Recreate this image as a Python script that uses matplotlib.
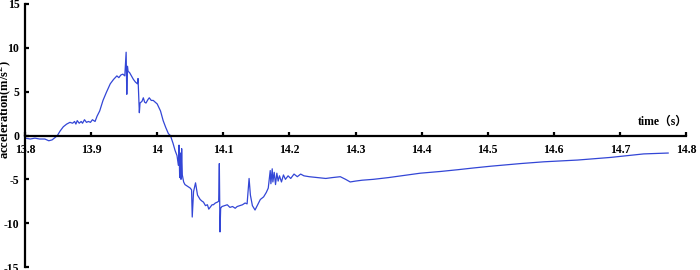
import matplotlib
matplotlib.use("Agg")
import matplotlib.pyplot as plt

# time (s) and acceleration (m/s^2)
t = [13.800, 13.808, 13.815, 13.822, 13.830, 13.836, 13.841, 13.846, 13.849,
     13.853, 13.858, 13.863, 13.868, 13.872, 13.875, 13.877, 13.879, 13.882,
     13.885, 13.887, 13.890, 13.893, 13.896, 13.899, 13.902, 13.906, 13.909,
     13.913, 13.918, 13.923, 13.929, 13.934, 13.939, 13.942, 13.945, 13.948,
     13.951, 13.953, 13.954, 13.955, 13.956, 13.958, 13.961, 13.964, 13.967,
     13.970, 13.971, 13.973, 13.974, 13.977, 13.979, 13.981, 13.983, 13.986,
     13.988, 13.991, 13.994, 13.997, 14.000, 14.005, 14.009, 14.013, 14.017,
     14.020, 14.024, 14.027, 14.030, 14.032, 14.033, 14.034, 14.035, 14.036,
     14.037, 14.038, 14.040, 14.042, 14.046, 14.050, 14.052, 14.053, 14.055,
     14.058, 14.061, 14.065, 14.068, 14.070, 14.073, 14.076, 14.078, 14.080,
     14.083, 14.085, 14.088, 14.091, 14.093, 14.094, 14.095, 14.096, 14.098,
     14.102, 14.106, 14.110, 14.114, 14.118, 14.121, 14.125, 14.129, 14.133,
     14.136, 14.139, 14.141, 14.144, 14.148, 14.152, 14.156, 14.161, 14.165,
     14.168, 14.171, 14.172, 14.174, 14.175, 14.177, 14.179, 14.181, 14.183,
     14.185, 14.188, 14.191, 14.194, 14.198, 14.202, 14.207, 14.212, 14.217,
     14.222, 14.230, 14.242, 14.255, 14.265, 14.277, 14.285, 14.292, 14.300,
     14.310, 14.327, 14.350, 14.379, 14.398, 14.429, 14.455, 14.479, 14.505,
     14.550, 14.585, 14.636, 14.686, 14.736, 14.773]
acc = [-0.3, -0.4, -0.3, -0.4, -0.4, -0.6, -0.5, -0.2, 0.0,
       0.5, 1.0, 1.3, 1.5, 1.4, 1.6, 1.3, 1.7, 1.4,
       1.6, 1.4, 1.8, 1.5, 1.6, 1.5, 1.8, 1.6, 2.2,
       2.8, 4.0, 4.9, 5.9, 6.4, 6.8, 6.6, 6.9, 7.0,
       6.8, 9.5, 4.7, 7.9, 7.3, 7.2, 6.8, 6.4, 6.1,
       5.9, 6.5, 2.6, 3.7, 3.9, 4.3, 3.8, 3.7, 4.1,
       4.3, 4.0, 4.0, 3.8, 3.6, 2.8, 1.7, 0.9, 0.2,
       0.0, -0.9, -1.7, -2.3, -3.4, -1.1, -4.8, -2.0, -5.0,
       -1.5, -4.5, -5.3, -5.6, -5.8, -6.0, -6.2, -9.3, -6.4,
       -5.4, -6.8, -7.3, -7.5, -7.6, -8.0, -7.9, -8.4, -8.2,
       -7.9, -7.9, -7.7, -7.6, -7.5, -3.2, -11.0, -8.3, -8.1,
       -8.0, -7.9, -8.2, -8.1, -8.3, -8.1, -8.0, -7.9, -7.7,
       -7.8, -4.9, -6.8, -8.0, -8.5, -7.9, -7.3, -7.0, -6.5,
       -6.0, -4.0, -5.5, -3.8, -5.3, -4.2, -5.6, -4.3, -5.2,
       -4.6, -5.3, -4.5, -5.0, -4.6, -4.9, -4.4, -4.7, -4.4,
       -4.6, -4.7, -4.8, -4.9, -4.8, -4.7, -5.0, -5.3, -5.2,
       -5.1, -5.0, -4.8, -4.5, -4.3, -4.1, -3.9, -3.7, -3.5,
       -3.2, -3.0, -2.8, -2.5, -2.1, -2.0]

xticks = [13.8, 13.9, 14.0, 14.1, 14.2, 14.3, 14.4, 14.5, 14.6, 14.7, 14.8]
xlabels = ["13.8", "13.9", "14", "14.1", "14.2", "14.3", "14.4", "14.5",
           "14.6", "14.7", "14.8"]
yticks = [15, 10, 5, 0, -5, -10, -15]
ylabels = ["15", "10", "5", "0", "-5", "-10", "-15"]

fnt = ["Liberation Serif", "Noto Sans CJK SC"]

fig = plt.figure(figsize=(7, 2.7), dpi=100)
ax = fig.add_axes([25 / 700, 3 / 270, 661 / 700, 263 / 270])
ax.plot(t, acc, color="#3346d6", linewidth=0.9)

ax.set_xlim(13.8, 14.8)
ax.set_ylim(-15, 15)
ax.spines["top"].set_visible(False)
ax.spines["right"].set_visible(False)
ax.spines["bottom"].set_position(("data", 0))
ax.spines["bottom"].set_linewidth(1.6)
ax.spines["left"].set_linewidth(1.6)

ax.set_xticks(xticks)
ax.set_xticklabels(xlabels, family=fnt, fontweight="bold", fontsize=8.5)
ax.set_yticks(yticks)
ax.set_yticklabels(ylabels, family=fnt, fontweight="bold", fontsize=8.5)
ax.tick_params(axis="x", direction="in", length=3, width=1.6, pad=6)
ax.tick_params(axis="y", direction="in", length=3, width=1.6, pad=4)

ax.text(14.803, 0.9, "time（s）", family=fnt, fontweight="bold", fontsize=8.5,
        ha="right", va="bottom")
ax.text(-0.0295, 0.6, "acceleration(m/s$^2$)", transform=ax.transAxes,
        family=fnt, fontweight="bold", fontsize=9, rotation=90,
        ha="center", va="center")

fig.savefig("out.png", dpi=100)
